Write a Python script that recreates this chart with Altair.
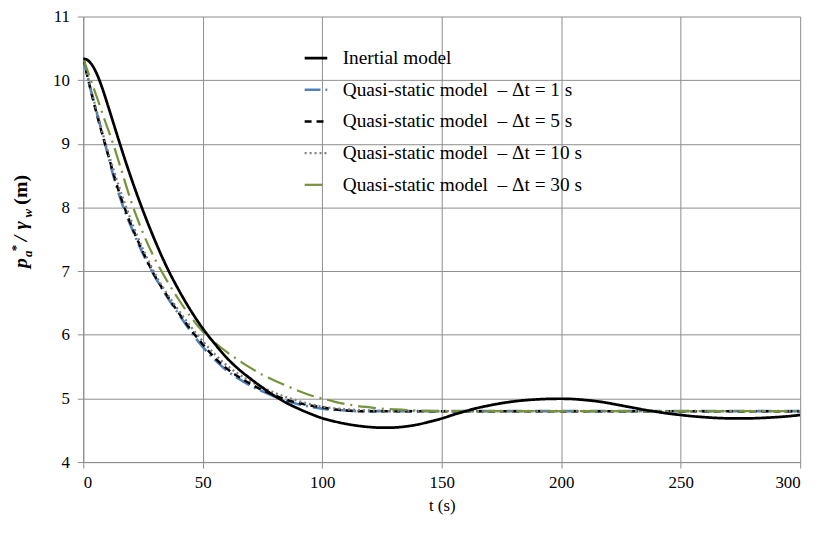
import altair as alt
import pandas as pd

# ---- data ----
t_inertial = [0, 2, 4, 6, 8, 10, 12, 15, 18, 21, 25, 30, 35, 40, 45, 50, 55, 60, 65, 70, 75, 80, 85, 90,
              95, 100, 105, 110, 115, 120, 125, 130, 135, 140, 145, 150, 155, 160, 165, 170, 175, 180,
              185, 190, 195, 200, 205, 210, 215, 220, 225, 230, 235, 240, 245, 250, 255, 260, 265, 270,
              275, 280, 285, 290, 295, 300]
v_inertial = [10.34, 10.31, 10.22, 10.07, 9.87, 9.64, 9.40, 9.04, 8.69, 8.36, 7.95, 7.48, 7.06, 6.70,
              6.38, 6.10, 5.86, 5.64, 5.46, 5.31, 5.17, 5.04, 4.93, 4.84, 4.76, 4.69, 4.64, 4.60, 4.57,
              4.55, 4.54, 4.543, 4.56, 4.59, 4.635, 4.685, 4.745, 4.80, 4.85, 4.89, 4.925, 4.952, 4.972,
              4.985, 4.993, 4.995, 4.99, 4.975, 4.955, 4.925, 4.89, 4.855, 4.82, 4.79, 4.762, 4.74,
              4.72, 4.705, 4.693, 4.687, 4.685, 4.688, 4.695, 4.706, 4.72, 4.74]

t_dt1 = [0, 1, 2, 4, 6, 9, 12, 15, 17, 20, 25, 29, 35, 40, 45, 50, 55, 60, 65, 70, 75, 80, 85, 90, 95,
         100, 105, 110, 115, 120, 300]
v_dt1 = [10.34, 10.18, 10.02, 9.72, 9.44, 9.02, 8.58, 8.20, 7.98, 7.70, 7.27, 6.98, 6.60, 6.32, 6.05,
         5.81, 5.61, 5.44, 5.31, 5.20, 5.11, 5.03, 4.96, 4.91, 4.87, 4.84, 4.82, 4.81, 4.80, 4.80, 4.80]

t_dt5 = [0, 5, 10, 15, 20, 25, 30, 35, 40, 45, 50, 55, 60, 65, 70, 75, 80, 85, 90, 95, 100, 105, 110,
         115, 120, 300]
v_dt5 = [10.34, 9.56, 8.88, 8.24, 7.73, 7.30, 6.92, 6.62, 6.34, 6.08, 5.85, 5.64, 5.47, 5.34, 5.23,
         5.13, 5.05, 4.98, 4.93, 4.89, 4.86, 4.83, 4.81, 4.80, 4.80, 4.80]

t_dt10 = [0, 10, 20, 30, 40, 50, 60, 70, 80, 90, 100, 110, 120, 130, 300]
v_dt10 = [10.34, 8.92, 7.80, 6.96, 6.38, 5.90, 5.52, 5.27, 5.09, 4.96, 4.87, 4.83, 4.81, 4.80, 4.80]

t_dt30 = [0, 3, 6, 9, 12.5, 16, 20, 25, 30, 35, 40, 45, 50, 55, 60, 65, 70, 75, 80, 85, 90, 95, 100,
          105, 110, 115, 120, 125, 130, 140, 150, 300]
v_dt30 = [10.34, 10.02, 9.70, 9.37, 9.00, 8.58, 8.10, 7.60, 7.19, 6.85, 6.55, 6.28, 6.05, 5.88, 5.73,
          5.60, 5.48, 5.37, 5.28, 5.20, 5.12, 5.05, 5.00, 4.95, 4.91, 4.88, 4.86, 4.84, 4.83, 4.81,
          4.80, 4.80]

NB = "\u00a0"
series_names = [
    "Inertial model",
    "Quasi-static model" + NB + NB + "\u2013 \u0394t = 1 s",
    "Quasi-static model" + NB + NB + "\u2013 \u0394t = 5 s",
    "Quasi-static model" + NB + NB + "\u2013 \u0394t = 10 s",
    "Quasi-static model" + NB + NB + "\u2013 \u0394t = 30 s",
]
series_colors = ["#000000", "#4F81BD", "#000000", "#7F7F7F", "#77933C"]
series_dashes = [[1, 0], [16, 5, 2, 5], [7, 5], [2, 3], [18, 6, 2, 6]]
series_widths = [2.75, 2.25, 2.5, 2.0, 2.5]

x_ticks = [0, 50, 100, 150, 200, 250, 300]
y_ticks = [4, 5, 6, 7, 8, 9, 10, 11]

# ---- table (inertial drawn last, on top) ----
frames = []
for name, ts, vs in [(series_names[1], t_dt1, v_dt1), (series_names[2], t_dt5, v_dt5),
                     (series_names[3], t_dt10, v_dt10), (series_names[4], t_dt30, v_dt30),
                     (series_names[0], t_inertial, v_inertial)]:
    frames.append(pd.DataFrame({"t": ts, "v": vs, "series": name}))
df = pd.DataFrame(pd.concat(frames, ignore_index=True))

SERIF = "Liberation Serif, Times New Roman, serif"

legend_cfg = dict(
    title=None, orient="none", legendX=222, legendY=29, symbolType="stroke", symbolSize=520,
    symbolStrokeWidth=2.5, labelFont=SERIF, labelFontSize=19.5, labelColor="#000000",
    rowPadding=9, labelOffset=14, padding=0, labelLimit=400,
)

lines = alt.Chart(df).mark_line(interpolate="monotone", clip=True).encode(
    x=alt.X("t:Q", scale=alt.Scale(domain=[0, 300], nice=False),
            axis=alt.Axis(values=x_ticks, title="t (s)", titleFont=SERIF, titleFontSize=17,
                          titleFontWeight="normal", titleColor="#000000", titlePadding=7)),
    y=alt.Y("v:Q", scale=alt.Scale(domain=[4, 11], nice=False, zero=False),
            axis=alt.Axis(values=y_ticks, title=None)),
    color=alt.Color("series:N", scale=alt.Scale(domain=series_names, range=series_colors),
                    legend=alt.Legend(**legend_cfg)),
    strokeDash=alt.StrokeDash("series:N", scale=alt.Scale(domain=series_names, range=series_dashes),
                              legend=alt.Legend(**legend_cfg)),
    strokeWidth=alt.StrokeWidth("series:N", scale=alt.Scale(domain=series_names, range=series_widths),
                                legend=None),
)

# ---- composed y-axis title: p_a* / γ_w (m) ----
title_parts = [
    ("p", -57, 254, 20, "italic", "bold"),
    ("a", -52, 243, 13, "italic", "bold"),
    ("*", -64, 237, 13, "normal", "bold"),
    ("/", -57, 227, 20, "italic", "bold"),
    ("\u03b3", -57, 215, 20, "italic", "bold"),
    ("w", -52, 203, 13, "italic", "bold"),
    ("(m)", -57, 190, 20, "normal", "bold"),
]
title_layers = []
for txt, px, py, fs, style, weight in title_parts:
    title_layers.append(
        alt.Chart(pd.DataFrame({"k": [0]})).mark_text(
            angle=270, align="left", baseline="alphabetic", font=SERIF, fontSize=fs,
            fontStyle=style, fontWeight=weight, color="#000000",
        ).encode(x=alt.value(px), y=alt.value(py), text=alt.value(txt))
    )

chart = alt.layer(lines, *title_layers).properties(
    width=724, height=450,
    autosize=alt.AutoSizeParams(type="none"),
    padding={"left": 76, "top": 6, "right": 17, "bottom": 65},
).configure_view(stroke=None).configure_axis(
    grid=True, gridColor="#8C8C8C", gridWidth=1, domainColor="#8C8C8C", domainWidth=1,
    tickColor="#8C8C8C", tickSize=6, labelFont=SERIF, labelFontSize=17, labelColor="#000000",
    labelPadding=7,
).configure_axisY(labelPadding=8)

chart.save("out.html", embed_options={"renderer": "svg", "actions": False})
